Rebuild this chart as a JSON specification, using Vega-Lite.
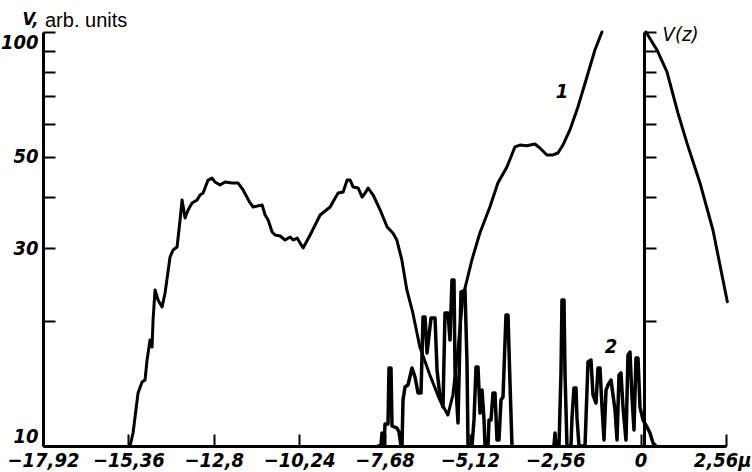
{
  "$schema": "https://vega.github.io/schema/vega-lite/v6.json",
  "width": 683,
  "height": 414,
  "autosize": "none",
  "padding": {"left": 43, "top": 32, "right": 26, "bottom": 26},
  "background": "white",
  "config": {
    "view": {"stroke": null},
    "axis": {"grid": false, "domainColor": "black", "tickColor": "black", "labelColor": "black", "titleColor": "black"}
  },
  "title": {"text": "arb. units", "anchor": "start", "frame": "group", "font": "Liberation Sans", "fontSize": 20, "fontWeight": "normal", "color": "black", "dx": 2, "dy": 25, "offset": 4},
  "datasets": {
    "c1": [
      {"x": -15.31, "y": 10}, {"x": -15.22, "y": 10.75}, {"x": -15.07, "y": 13.43}, {"x": -14.95, "y": 14.28},
      {"x": -14.86, "y": 14.44}, {"x": -14.8, "y": 16.13}, {"x": -14.71, "y": 18.03}, {"x": -14.65, "y": 17.34},
      {"x": -14.62, "y": 20.16}, {"x": -14.56, "y": 23.82}, {"x": -14.47, "y": 22.53}, {"x": -14.35, "y": 21.67},
      {"x": -14.26, "y": 23.42}, {"x": -14.11, "y": 28.61}, {"x": -14.02, "y": 29.75}, {"x": -13.9, "y": 30.25},
      {"x": -13.81, "y": 35.15}, {"x": -13.75, "y": 39.28}, {"x": -13.66, "y": 35.54}, {"x": -13.57, "y": 37.15},
      {"x": -13.45, "y": 38.64}, {"x": -13.3, "y": 39.28}, {"x": -13.21, "y": 40.39}, {"x": -13.12, "y": 40.84},
      {"x": -12.97, "y": 43.89}, {"x": -12.85, "y": 44.38}, {"x": -12.76, "y": 43.41}, {"x": -12.61, "y": 42.69},
      {"x": -12.46, "y": 43.41}, {"x": -12.25, "y": 43.17}, {"x": -12.07, "y": 43.17}, {"x": -11.92, "y": 41.53},
      {"x": -11.71, "y": 38.64}, {"x": -11.62, "y": 37.78}, {"x": -11.35, "y": 38.21}, {"x": -11.26, "y": 36.14},
      {"x": -11.17, "y": 35.15}, {"x": -11.05, "y": 32.87}, {"x": -10.96, "y": 32.33}, {"x": -10.81, "y": 32.15},
      {"x": -10.66, "y": 31.44}, {"x": -10.51, "y": 31.97}, {"x": -10.42, "y": 31.44}, {"x": -10.3, "y": 31.79},
      {"x": -10.12, "y": 30.08}, {"x": -9.91, "y": 32.33}, {"x": -9.61, "y": 36.14}, {"x": -9.31, "y": 37.78},
      {"x": -9.16, "y": 39.72}, {"x": -9.07, "y": 40.84}, {"x": -8.92, "y": 41.07}, {"x": -8.8, "y": 43.89},
      {"x": -8.71, "y": 43.89}, {"x": -8.62, "y": 42.22}, {"x": -8.47, "y": 41.99}, {"x": -8.35, "y": 39.94},
      {"x": -8.26, "y": 40.84}, {"x": -8.17, "y": 41.99}, {"x": -8.02, "y": 40.39}, {"x": -7.81, "y": 37.15},
      {"x": -7.6, "y": 33.81}, {"x": -7.43, "y": 32.69}, {"x": -7.31, "y": 31.44}, {"x": -7.16, "y": 28.14},
      {"x": -7.01, "y": 23.82}, {"x": -6.83, "y": 20.96}, {"x": -6.62, "y": 17.34}, {"x": -6.32, "y": 14.84},
      {"x": -6.02, "y": 12.91}, {"x": -5.78, "y": 11.88}, {"x": -5.63, "y": 13.28}, {"x": -5.48, "y": 17.05},
      {"x": -5.33, "y": 22.91}, {"x": -5.06, "y": 28.14}, {"x": -4.82, "y": 32.69}, {"x": -4.52, "y": 37.78},
      {"x": -4.28, "y": 43.17}, {"x": -4.01, "y": 47.2}, {"x": -3.77, "y": 52.76}, {"x": -3.62, "y": 53.33},
      {"x": -3.41, "y": 53.1}, {"x": -3.17, "y": 53.64}, {"x": -3.02, "y": 52.46}, {"x": -2.81, "y": 50.46},
      {"x": -2.63, "y": 50.46}, {"x": -2.48, "y": 51.02}, {"x": -2.33, "y": 53.33}, {"x": -2.12, "y": 57.99},
      {"x": -1.88, "y": 65.92}, {"x": -1.61, "y": 77.87}, {"x": -1.37, "y": 90.5}, {"x": -1.16, "y": 100}
    ],
    "c2": [
      {"s": 1, "x": -7.875, "y": 10}, {"s": 1, "x": -7.785, "y": 10}, {"s": 1, "x": -7.755, "y": 10.75}, {"s": 1, "x": -7.725, "y": 10},
      {"s": 1, "x": -7.695, "y": 10}, {"s": 1, "x": -7.665, "y": 11.3}, {"s": 1, "x": -7.575, "y": 11.3}, {"s": 1, "x": -7.545, "y": 15.43},
      {"s": 1, "x": -7.485, "y": 15.43}, {"s": 1, "x": -7.455, "y": 11.18}, {"s": 1, "x": -7.305, "y": 11.05}, {"s": 1, "x": -7.245, "y": 10.81},
      {"s": 1, "x": -7.185, "y": 10}, {"s": 1, "x": -7.155, "y": 10}, {"s": 1, "x": -7.125, "y": 12.91}, {"s": 1, "x": -7.065, "y": 13.88},
      {"s": 1, "x": -6.975, "y": 14.04}, {"s": 1, "x": -6.855, "y": 15.43}, {"s": 1, "x": -6.765, "y": 14.68}, {"s": 1, "x": -6.675, "y": 13.43},
      {"s": 1, "x": -6.585, "y": 13.43}, {"s": 1, "x": -6.525, "y": 20.49}, {"s": 1, "x": -6.465, "y": 20.49}, {"s": 1, "x": -6.405, "y": 16.77},
      {"s": 1, "x": -6.285, "y": 20.38}, {"s": 1, "x": -6.165, "y": 20.38}, {"s": 1, "x": -6.105, "y": 15.26}, {"s": 1, "x": -6.015, "y": 13.13},
      {"s": 1, "x": -5.926, "y": 12.42}, {"s": 1, "x": -5.866, "y": 20.96}, {"s": 1, "x": -5.776, "y": 20.96}, {"s": 1, "x": -5.716, "y": 18.03},
      {"s": 1, "x": -5.656, "y": 25.18}, {"s": 1, "x": -5.596, "y": 25.18}, {"s": 1, "x": -5.566, "y": 15.26}, {"s": 1, "x": -5.476, "y": 11.37},
      {"s": 1, "x": -5.386, "y": 23.55}, {"s": 1, "x": -5.266, "y": 23.82}, {"s": 1, "x": -5.206, "y": 15.86}, {"s": 1, "x": -5.176, "y": 10},
      {"s": 1, "x": -5.056, "y": 10}, {"s": 1, "x": -4.996, "y": 11.56}, {"s": 1, "x": -4.936, "y": 15.51}, {"s": 1, "x": -4.876, "y": 15.51},
      {"s": 1, "x": -4.816, "y": 12.01}, {"s": 1, "x": -4.756, "y": 13.65}, {"s": 1, "x": -4.696, "y": 11.56}, {"s": 1, "x": -4.666, "y": 10},
      {"s": 1, "x": -4.576, "y": 10}, {"s": 1, "x": -4.546, "y": 11.56}, {"s": 1, "x": -4.486, "y": 11.56}, {"s": 1, "x": -4.426, "y": 13.43},
      {"s": 1, "x": -4.367, "y": 13.43}, {"s": 1, "x": -4.307, "y": 10.34}, {"s": 1, "x": -4.247, "y": 10.34}, {"s": 1, "x": -4.187, "y": 12.91},
      {"s": 1, "x": -4.127, "y": 13.13}, {"s": 1, "x": -4.037, "y": 20.72}, {"s": 1, "x": -3.977, "y": 20.72}, {"s": 1, "x": -3.917, "y": 14.19},
      {"s": 1, "x": -3.857, "y": 10},
      {"s": 2, "x": -2.628, "y": 10}, {"s": 2, "x": -2.598, "y": 10}, {"s": 2, "x": -2.568, "y": 10.75}, {"s": 2, "x": -2.538, "y": 10},
      {"s": 2, "x": -2.448, "y": 10}, {"s": 2, "x": -2.388, "y": 15.01}, {"s": 2, "x": -2.358, "y": 22.53}, {"s": 2, "x": -2.298, "y": 22.53},
      {"s": 2, "x": -2.268, "y": 15.01}, {"s": 2, "x": -2.208, "y": 10}, {"s": 2, "x": -2.088, "y": 10}, {"s": 2, "x": -2.058, "y": 11.69},
      {"s": 2, "x": -1.998, "y": 13.81}, {"s": 2, "x": -1.938, "y": 13.81}, {"s": 2, "x": -1.908, "y": 11.69}, {"s": 2, "x": -1.848, "y": 10},
      {"s": 2, "x": -1.668, "y": 10}, {"s": 2, "x": -1.578, "y": 15.95}, {"s": 2, "x": -1.488, "y": 16.13}, {"s": 2, "x": -1.428, "y": 13.28},
      {"s": 2, "x": -1.338, "y": 12.7}, {"s": 2, "x": -1.278, "y": 15.43}, {"s": 2, "x": -1.218, "y": 15.43}, {"s": 2, "x": -1.158, "y": 12.42},
      {"s": 2, "x": -1.098, "y": 10.34}, {"s": 2, "x": -1.038, "y": 13.65}, {"s": 2, "x": -0.978, "y": 14.04}, {"s": 2, "x": -0.888, "y": 14.43},
      {"s": 2, "x": -0.828, "y": 13.28}, {"s": 2, "x": -0.768, "y": 12.22}, {"s": 2, "x": -0.708, "y": 10.34}, {"s": 2, "x": -0.648, "y": 14.84},
      {"s": 2, "x": -0.589, "y": 15.01}, {"s": 2, "x": -0.529, "y": 12.42}, {"s": 2, "x": -0.439, "y": 10.34}, {"s": 2, "x": -0.379, "y": 16.59},
      {"s": 2, "x": -0.319, "y": 16.87}, {"s": 2, "x": -0.259, "y": 13.13}, {"s": 2, "x": -0.199, "y": 10.93}, {"s": 2, "x": -0.139, "y": 16.31},
      {"s": 2, "x": -0.079, "y": 16.31}, {"s": 2, "x": -0.019, "y": 12.42}, {"s": 2, "x": 0.071, "y": 11.56}, {"s": 2, "x": 0.191, "y": 11.11},
      {"s": 2, "x": 0.281, "y": 10.75}, {"s": 2, "x": 0.371, "y": 10.17}, {"s": 2, "x": 0.461, "y": 10}
    ],
    "vz": [
      {"x": 0.16, "y": 100}, {"x": 0.49, "y": 90.5}, {"x": 0.79, "y": 80.1}, {"x": 1.12, "y": 63.7},
      {"x": 1.39, "y": 53.9}, {"x": 1.78, "y": 43.2}, {"x": 2.17, "y": 33.2}, {"x": 2.6, "y": 22.3}
    ],
    "lbl": [
      {"x": -2.36, "y": 71.6, "t": "1"},
      {"x": -0.89, "y": 17.34, "t": "2"}
    ]
  },
  "encoding": {
    "x": {
      "field": "x", "type": "quantitative",
      "scale": {"domain": [-17.92, 2.56], "nice": false, "zero": false},
      "axis": {
        "orient": "bottom",
        "values": [-17.92, -15.36, -12.8, -10.24, -7.68, -5.12, -2.56, 0, 2.56],
        "labelExpr": "datum.value == 2.56 ? '2,56μ' : datum.value == 0 ? '0' : replace(format(datum.value, '.2~f'), '.', ',')",
        "labelFlush": false,
        "labelOverlap": false,
        "labelAlign": {"condition": {"test": "datum.value == 2.56", "value": "right"}, "value": "center"},
        "labelOffset": {"condition": {"test": "datum.value == 2.56", "value": 25}, "value": 0},
        "tickSize": -12, "tickWidth": 2, "domainWidth": 3,
        "labelPadding": 16,
        "labelFont": "Liberation Sans Narrow, DejaVu Sans Condensed, sans-serif",
        "labelFontSize": 20, "labelFontStyle": "italic", "labelFontWeight": "bold",
        "title": null
      }
    }
  },
  "layer": [
    {
      "encoding": {
        "y": {
          "field": "y", "type": "quantitative",
          "scale": {"type": "log", "domain": [10, 100], "nice": false},
          "axis": {
            "orient": "left",
            "values": [10, 20, 30, 40, 50, 60, 70, 80, 90, 100],
            "labelExpr": "(datum.value == 10 || datum.value == 30 || datum.value == 50 || datum.value == 100) ? format(datum.value, 'd') : ''",
            "labelFlush": true,
            "labelOverlap": false,
            "tickSize": -12, "tickWidth": 2, "domainWidth": 3,
            "labelPadding": 17,
            "labelFont": "Liberation Sans Narrow, DejaVu Sans Condensed, sans-serif",
            "labelFontSize": 20, "labelFontStyle": "italic", "labelFontWeight": "bold",
            "title": "V,", "titleAngle": 0, "titleX": -13, "titleY": -13,
            "titleAlign": "center", "titleBaseline": "middle",
            "titleFont": "Liberation Sans Narrow, DejaVu Sans Condensed, sans-serif",
            "titleFontSize": 18, "titleFontStyle": "italic", "titleFontWeight": "bold"
          }
        }
      },
      "layer": [
        {
          "data": {"name": "c1"},
          "mark": {"type": "line", "color": "black", "strokeWidth": 3, "strokeJoin": "round", "strokeCap": "round"}
        },
        {
          "data": {"name": "c2"},
          "mark": {"type": "line", "color": "black", "strokeWidth": 3.5, "strokeJoin": "round", "strokeCap": "round"},
          "encoding": {"detail": {"field": "s", "type": "nominal"}}
        },
        {
          "data": {"name": "lbl"},
          "mark": {"type": "text", "color": "black", "font": "Liberation Sans Narrow, DejaVu Sans Condensed, sans-serif", "fontSize": 20, "fontStyle": "italic", "fontWeight": "bold"},
          "encoding": {"text": {"field": "t", "type": "nominal"}}
        }
      ]
    },
    {
      "data": {"name": "vz"},
      "mark": {"type": "line", "color": "black", "strokeWidth": 3, "strokeJoin": "round", "strokeCap": "round"},
      "encoding": {
        "y": {
          "field": "y", "type": "quantitative",
          "scale": {"type": "log", "domain": [10, 100], "nice": false},
          "axis": {
            "orient": "right",
            "offset": -82,
            "values": [20, 30, 40, 50, 60, 70, 80, 90, 100],
            "labels": false,
            "tickSize": 12, "tickWidth": 2, "domainWidth": 3,
            "title": "V(z)", "titleAngle": 0, "titleX": 36, "titleY": 2,
            "titleAlign": "center", "titleBaseline": "middle",
            "titleFont": "Liberation Sans Narrow, DejaVu Sans Condensed, sans-serif",
            "titleFontSize": 20, "titleFontStyle": "italic", "titleFontWeight": "normal"
          }
        }
      }
    }
  ],
  "resolve": {"scale": {"y": "independent"}, "axis": {"y": "independent"}}
}
